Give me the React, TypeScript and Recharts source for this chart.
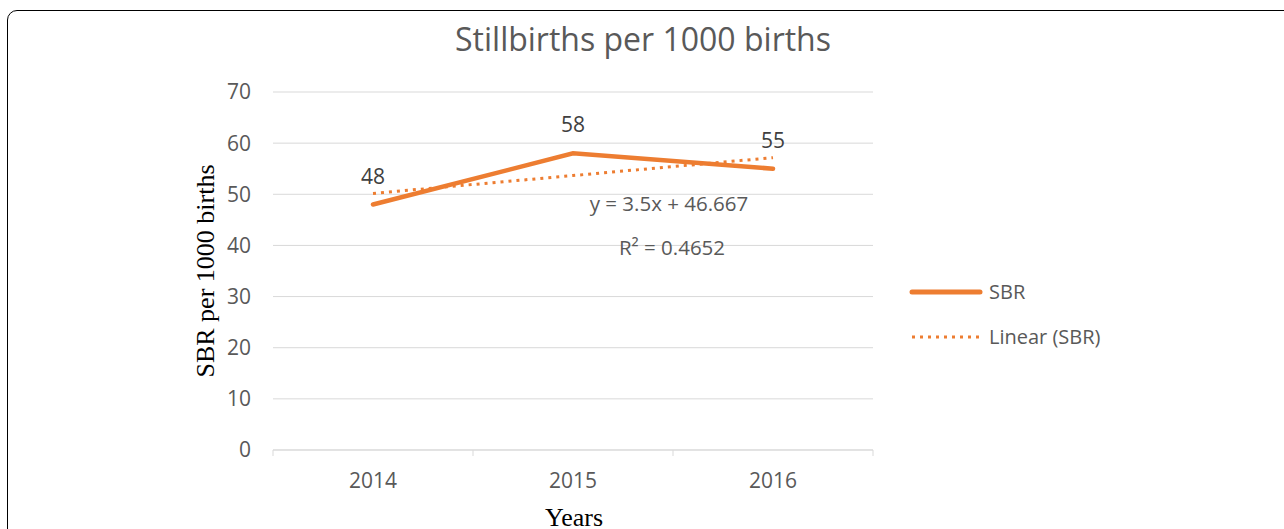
import { LineChart, Line, XAxis, YAxis, CartesianGrid, Legend, LabelList } from 'recharts'

const years = ['2014', '2015', '2016']
const sbr = [48, 58, 55]
// trend values read from y = 3.5x + 46.667
const linearSbr = [50.167, 53.667, 57.167]
const yTicks = [0, 10, 20, 30, 40, 50, 60, 70]
const xTicks = [-0.5, 0, 0.5, 1, 1.5, 2, 2.5]

const data = years.map((year, i) => ({ idx: i, year, sbr: sbr[i], linear: linearSbr[i] }))

const ORANGE = '#ED7D31'
const GREY = '#595959'
const GRID = '#d9d9d9'
const SANS = '"Open Sans", Calibri, sans-serif'
const SERIF = '"Liberation Serif", "Times New Roman", serif'

function XTick({ x, y, payload }: any) {
  const v = payload.value
  if (Number.isInteger(v)) {
    return (
      <text x={x} y={y + 32} textAnchor="middle" fill={GREY} fontSize={21} fontFamily={SANS}>
        {years[v]}
      </text>
    )
  }
  return <line x1={x} x2={x} y1={y - 6} y2={y} stroke={GRID} strokeWidth={1} />
}

function LegendBox() {
  return (
    <svg width={260} height={90}>
      <line x1={12} x2={80} y1={22} y2={22} stroke={ORANGE} strokeWidth={5} strokeLinecap="round" />
      <text x={89} y={29} fill={GREY} fontSize={20} fontFamily={SANS}>SBR</text>
      <line x1={12} x2={80} y1={67} y2={67} stroke={ORANGE} strokeWidth={3} strokeDasharray="3 5" />
      <text x={89} y={74} fill={GREY} fontSize={20} fontFamily={SANS}>Linear (SBR)</text>
    </svg>
  )
}

export default function App() {
  return (
    <div style={{ position: 'fixed', left: 0, top: 0, width: 1284, height: 529, overflow: 'hidden', background: '#fff' }}>
      <div
        style={{
          position: 'absolute',
          left: 7,
          top: 10,
          width: 1400,
          height: 700,
          border: '1.5px solid #000',
          borderTopLeftRadius: 10,
        }}
      />
      <div style={{ position: 'absolute', left: 0, top: 0 }}>
        <LineChart width={1284} height={529} data={data} margin={{ top: 92, right: 411, bottom: 0, left: 0 }}>
          <CartesianGrid vertical={false} stroke={GRID} />
          <XAxis
            dataKey="idx"
            type="number"
            domain={[-0.5, 2.5]}
            ticks={xTicks}
            interval={0}
            height={79}
            tickSize={6}
            tickMargin={0}
            tickLine={false}
            axisLine={{ stroke: GRID }}
            tick={<XTick />}
          />
          <YAxis
            type="number"
            domain={[0, 70]}
            ticks={yTicks}
            width={273}
            axisLine={false}
            tickLine={false}
            tickSize={0}
            tickMargin={22}
            tick={{ fill: GREY, fontSize: 21, fontFamily: SANS }}
          />
          <Legend
            layout="vertical"
            verticalAlign="middle"
            align="center"
            content={<LegendBox />}
            wrapperStyle={{ left: 900, top: 270, width: 260 }}
          />
          <Line
            dataKey="sbr"
            name="SBR"
            type="linear"
            stroke={ORANGE}
            strokeWidth={4.5}
            strokeLinecap="round"
            dot={false}
            activeDot={false}
            isAnimationActive={false}
          >
            <LabelList dataKey="sbr" position="top" offset={21} fill="#404040" fontSize={21} fontFamily={SANS} />
          </Line>
          <Line
            dataKey="linear"
            name="Linear (SBR)"
            type="linear"
            stroke={ORANGE}
            strokeWidth={3}
            strokeDasharray="3 5"
            dot={false}
            activeDot={false}
            isAnimationActive={false}
          />
          <text x={643} y={51} textAnchor="middle" fill={GREY} fontSize={32} fontFamily={SANS}>
            Stillbirths per 1000 births
          </text>
          <text x={669} y={211} textAnchor="middle" fill={GREY} fontSize={20.5} fontFamily={SANS}>
            y = 3.5x + 46.667
          </text>
          <text x={672} y={255} textAnchor="middle" fill={GREY} fontSize={20.5} fontFamily={SANS}>
            R² = 0.4652
          </text>
          <text transform="translate(214,271) rotate(-90)" textAnchor="middle" fill="#000" fontSize={26} fontFamily={SERIF}>
            SBR per 1000 births
          </text>
          <text x={574} y={526} textAnchor="middle" fill="#000" fontSize={26} fontFamily={SERIF}>
            Years
          </text>
        </LineChart>
      </div>
    </div>
  )
}
